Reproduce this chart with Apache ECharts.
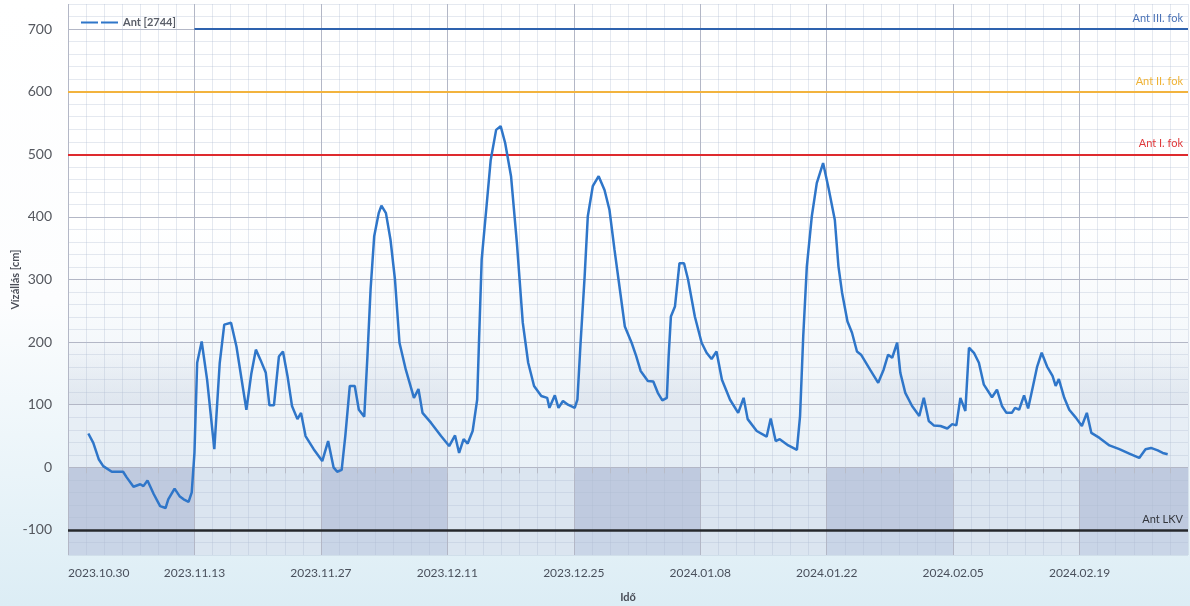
<!DOCTYPE html>
<html>
<head>
<meta charset="utf-8">
<script src="https://cdn.jsdelivr.net/npm/echarts@6/dist/echarts.min.js"></script>
<style>
html,body{margin:0;padding:0;background:#fff;}
#chart{width:1190px;height:606px;}
</style>
</head>
<body>
<div id="chart"></div>
<script>
// ---- data (days since 2023.10.30, water level in cm) ----
const seriesName = 'Ant [2744]';
const startDateUTC = Date.UTC(2023, 9, 30);
const axisEndDay = 124;
const dayOffsets = [
  2.25, 2.8, 3.4, 3.9, 4.85, 6.1, 6.5, 7.25, 8.0, 8.35, 8.8, 9.5, 10.2, 10.8, 11.1, 11.8, 12.35, 12.8, 13.35, 13.7,
  14.0, 14.3, 14.8, 15.4, 16.2, 16.8, 17.3, 18.05, 18.65, 19.4, 19.75, 20.3, 20.8, 21.3, 21.9, 22.3, 22.8, 23.35, 23.8, 24.3,
  24.8, 25.4, 25.8, 26.3, 27.2, 28.15, 28.8, 29.4, 29.8, 30.3, 30.7, 31.2, 31.75, 32.2, 32.8, 33.15, 33.5, 33.9, 34.4, 34.7,
  35.2, 35.7, 36.2, 36.7, 37.4, 38.3, 38.8, 39.25, 40.2, 41.3, 42.2, 42.85, 43.3, 43.8, 44.25, 44.8, 45.3, 45.5, 45.8, 46.3,
  46.8, 47.4, 47.9, 48.4, 49.05, 49.7, 50.35, 50.95, 51.6, 52.4, 53.05, 53.3, 53.9, 54.3, 54.8, 55.35, 56.1, 56.4, 56.75, 57.2,
  57.55, 58.1, 58.75, 59.4, 59.95, 60.5, 61.1, 61.65, 62.4, 62.9, 63.4, 64.2, 64.8, 65.3, 65.8, 66.3, 66.5, 66.75, 67.2, 67.7,
  68.2, 68.65, 69.4, 70.15, 70.7, 71.25, 71.8, 72.4, 73.3, 74.2, 74.8, 75.25, 76.25, 77.35, 77.8, 78.35, 78.8, 79.75, 80.7, 81.05,
  81.4, 81.8, 82.35, 82.9, 83.6, 84.2, 84.9, 85.3, 85.7, 86.3, 86.8, 87.35, 87.8, 88.8, 89.7, 90.3, 90.8, 91.25, 91.8, 92.15,
  92.7, 93.45, 94.25, 94.75, 95.3, 95.85, 96.6, 97.35, 97.9, 98.35, 98.8, 99.35, 99.75, 100.3, 100.85, 101.4, 102.3, 102.85, 103.4, 103.9,
  104.5, 104.85, 105.3, 105.85, 106.3, 106.8, 107.3, 107.8, 108.4, 109.0, 109.35, 109.7, 110.3, 110.85, 111.6, 112.25, 112.8, 113.3, 114.2, 115.3,
  116.4, 117.5, 118.6, 119.3, 119.9, 120.65, 121.2, 121.75
];
const levels = [
  54, 39, 13, 2, -7, -7, -16, -31, -27, -30, -21, -43, -62, -65, -51, -34, -46, -51, -55, -40,
  23, 167, 201, 140, 29, 167, 228, 231, 193, 124, 92, 150, 188, 172, 151, 99, 99, 177, 185, 146,
  98, 77, 87, 50, 29, 10, 42, 0, -7, -4, 50, 130, 130, 92, 81, 177, 284, 369, 406, 418,
  406, 364, 300, 199, 156, 111, 125, 87, 71, 50, 34, 51, 23, 45, 38, 58, 108, 199, 332, 411,
  491, 539, 545, 518, 465, 358, 231, 167, 130, 114, 111, 95, 115, 95, 106, 100, 95, 108, 199, 305,
  401, 449, 465, 443, 411, 348, 284, 225, 199, 178, 154, 138, 137, 119, 107, 111, 177, 241, 257, 326,
  326, 300, 241, 199, 183, 173, 185, 140, 108, 87, 111, 77, 58, 49, 78, 42, 45, 35, 28, 82,
  209, 321, 401, 454, 486, 446, 395, 321, 279, 233, 215, 185, 180, 156, 135, 156, 180, 175, 199, 151,
  119, 98, 82, 111, 74, 67, 66, 62, 69, 67, 111, 90, 191, 183, 167, 132, 112, 124, 98, 87,
  87, 95, 92, 115, 94, 127, 161, 183, 161, 146, 130, 141, 111, 92, 79, 66, 87, 55, 47, 35,
  29, 22, 15, 29, 31, 27, 23, 21
];
// alarm levels
const levelIII = 700, levelIIIStartDay = 14;
const levelII = 600;
const levelI = 500;
const levelLKV = -100;
const thresholdNames = ['Ant III. fok', 'Ant II. fok', 'Ant I. fok', 'Ant LKV'];
// two-week alternating bands (day ranges)
const darkBandStarts = [0, 28, 56, 84, 112];
const darkBandEnds = [14, 42, 70, 98, 124];
const lightBandStarts = [14, 42, 70, 98];
const lightBandEnds = [28, 56, 84, 112];
// y axis labels
const yLabels = [-100, 0, 100, 200, 300, 400, 500, 600, 700];

// ---- chart ----
const pad = n => (n < 10 ? '0' : '') + n;
function dayToLabel(v) {
  const d = new Date(startDateUTC + v * 86400000);
  return d.getUTCFullYear() + '.' + pad(d.getUTCMonth() + 1) + '.' + pad(d.getUTCDate());
}
const lineData = dayOffsets.map((d, i) => [d, levels[i]]);

const YMIN = -140, YMAX = 740;
const fadeShade = {
  type: 'linear', x: 0, y: 0, x2: 0, y2: 1,
  colorStops: [{ offset: 0, color: 'rgba(196,206,222,0.05)' }, { offset: 1, color: 'rgba(196,206,222,0.38)' }]
};
const areas = [];
darkBandStarts.forEach((s, i) => {
  const e = darkBandEnds[i];
  areas.push([{ xAxis: s, yAxis: YMIN, itemStyle: { color: '#c9d5e7' } }, { xAxis: e, yAxis: levelLKV }]);
  areas.push([{ xAxis: s, yAxis: levelLKV, itemStyle: { color: '#bfcadf' } }, { xAxis: e, yAxis: 0 }]);
  areas.push([{ xAxis: s, yAxis: 0, itemStyle: { color: 'rgba(200,212,228,0.16)' } }, { xAxis: e, yAxis: 100 }]);
  areas.push([{ xAxis: s, yAxis: 100, itemStyle: { color: fadeShade } }, { xAxis: e, yAxis: 200 }]);
});
lightBandStarts.forEach((s, i) => {
  areas.push([{ xAxis: s, yAxis: YMIN, itemStyle: { color: '#dbe5f0' } }, { xAxis: lightBandEnds[i], yAxis: 0 }]);
});

const MAJOR = '#b3b7c6', MINOR = 'rgba(175,188,208,0.32)';
const font = 'Lato, "Noto Sans", sans-serif';

const chart = echarts.init(document.getElementById('chart'), null, { renderer: 'canvas' });
chart.setOption({
  animation: false,
  backgroundColor: {
    type: 'linear', x: 0, y: 0, x2: 0, y2: 1,
    colorStops: [{ offset: 0, color: '#ffffff' }, { offset: 0.5, color: '#fcfdfe' }, { offset: 1, color: '#dcedf5' }]
  },
  textStyle: { fontFamily: font },
  grid: {
    left: 68, right: 2, top: 4, bottom: 51, show: true, borderWidth: 0,
    containLabel: false, outerBoundsMode: 'none',
    backgroundColor: {
      type: 'linear', x: 0, y: 0, x2: 0, y2: 1,
      colorStops: [{ offset: 0, color: '#ffffff' }, { offset: 0.4, color: '#ffffff' }, { offset: 1, color: '#e2ecf4' }]
    }
  },
  legend: {
    left: 76, top: 12,
    data: [seriesName],
    icon: 'path://M0,0H17V2H0Z M20,0H37V2H20Z',
    itemWidth: 37, itemHeight: 3, itemGap: 6,
    textStyle: { fontSize: 11, fontWeight: 'bold', color: '#5a5e68', fontFamily: font }
  },
  xAxis: {
    type: 'value', min: 0, max: axisEndDay, interval: 2, z: 2,
    name: 'Idő', nameLocation: 'middle', nameGap: 37,
    nameTextStyle: { fontSize: 11, fontWeight: 'bold', color: '#4a4e58' },
    axisLine: { show: false },
    axisTick: { show: true, length: 6, lineStyle: { color: '#b8bcc8' } },
    axisLabel: {
      margin: 12, fontSize: 12, color: '#4a505c', alignMinLabel: 'left', showMaxLabel: false,
      formatter: v => (Math.abs(v % 14) < 1e-6 ? dayToLabel(v) : '')
    },
    splitLine: { show: true, lineStyle: { width: 1, color: [MAJOR, MINOR, MINOR, MINOR, MINOR, MINOR, MINOR] } }
  },
  yAxis: {
    type: 'value', min: YMIN, max: YMAX, interval: 20, z: 2,
    name: 'Vízállás [cm]', nameLocation: 'middle', nameGap: 47, nameMoveOverlap: false,
    nameTextStyle: { fontSize: 11, fontWeight: 'bold', color: '#4a4e58' },
    axisLine: { show: false }, axisTick: { show: false },
    axisLabel: {
      margin: 16, fontSize: 14, color: '#55585f',
      formatter: v => (yLabels.indexOf(Math.round(v)) >= 0 ? String(Math.round(v)) : '')
    },
    splitLine: { show: true, lineStyle: { width: 1, color: [MINOR, MINOR, MAJOR, MINOR, MINOR] } }
  },
  series: [
    {
      type: 'line', data: [], z: 1, silent: true,
      markArea: { silent: true, data: areas }
    },
    {
      name: seriesName, type: 'line', data: lineData, z: 5,
      showSymbol: false, symbol: 'none',
      lineStyle: { color: '#2f76c9', width: 2.5 },
      itemStyle: { color: '#2f76c9' },
      markLine: {
        silent: true, symbol: 'none', z: 4,
        label: { position: 'insideEndTop', fontSize: 11, distance: 5 },
        data: [
          [
            { coord: [levelIIIStartDay, levelIII], lineStyle: { color: '#2e62ae', width: 2, type: 'solid' },
              label: { formatter: thresholdNames[0], color: '#4a72b6' } },
            { coord: [axisEndDay, levelIII] }
          ],
          { yAxis: levelII, lineStyle: { color: '#f2b33e', width: 2, type: 'solid' },
            label: { formatter: thresholdNames[1], color: '#efb234' } },
          { yAxis: levelI, lineStyle: { color: '#de2a2e', width: 2, type: 'solid' },
            label: { formatter: thresholdNames[2], color: '#e0393b' } },
          { yAxis: levelLKV, lineStyle: { color: '#26282c', width: 2.5, type: 'solid' },
            label: { formatter: thresholdNames[3], color: '#33363c' } }
        ]
      }
    }
  ]
});
</script>
</body>
</html>
